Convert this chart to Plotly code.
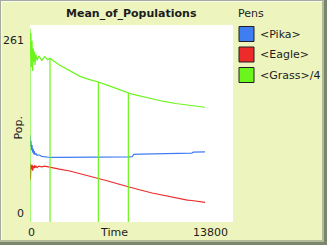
import plotly.graph_objects as go

# ---- data ----
time = [0, 30, 60, 100, 140, 180, 220, 260, 300, 340, 400, 480, 600, 800, 1000, 1200, 1360,
        2000, 2700, 3400, 4000, 4645, 5300, 6000, 6685, 6950, 7050, 7500, 8300, 9100, 9900,
        10700, 11000, 11100, 11400, 11900]
pika = [115, 100, 108, 95, 102, 92, 97, 90, 94, 89, 91, 88, 89, 87, 86.5, 86, 85.5,
        85.5, 85.5, 86, 86, 86, 86, 86, 86.3, 86.5, 89.5, 90, 90.3, 90.6, 91,
        91.2, 91.3, 92.5, 92.6, 93]
eagle = [78, 56, 75, 70, 76, 68, 74, 71, 75, 72, 74, 72, 74, 73, 74, 73, 73,
         70, 67.6, 64, 61.6, 58.3, 54.3, 50.3, 46.4, 45, 44.5, 42.4, 38.4, 35, 31.8,
         29, 28.5, 28.3, 27, 26]
grass_q = [256, 232, 250, 205, 240, 200, 230, 212, 226, 208, 222, 214, 220, 214, 219, 215, 217,
           208, 200.7, 193, 189, 185.5, 181, 175.5, 171, 169.5, 169, 167, 163, 159.7, 157,
           155, 154.3, 154, 153, 152]
# times where the grass pen drops to zero and back (vertical strokes)
grass_drops = [0, 1360, 4645, 6685]

series_names = ["<Pika>", "<Eagle>", "<Grass>/4"]
series_colors = ["#3f7df2", "#ee2b2b", "#6cf51c"]

x_max = 13800
y_max = 261
title = "Mean_of_Populations"
x_title = "Time"
y_title = "Pop."
legend_title = "Pens"

# grass with vertical strokes
gx, gy = [], []
for t, v in zip(time, grass_q):
    if t in grass_drops:
        if t == 0:
            gx += [t, t]
            gy += [0, v]
        else:
            gx += [t, t, t]
            gy += [v, 0, v]
    else:
        gx.append(t)
        gy.append(v)

W, H = 327, 245
L, R, T, B = 30, 94, 25, 23
PW, PH = W - L - R, H - T - B

def px(x):
    return (x - L) / PW

def py(y):
    return 1 - (y - T) / PH

fig = go.Figure()
fig.add_trace(go.Scatter(x=time, y=pika, mode="lines", line=dict(color=series_colors[0], width=1.2),
                         name=series_names[0], showlegend=False))
fig.add_trace(go.Scatter(x=time, y=eagle, mode="lines", line=dict(color=series_colors[1], width=1.2),
                         name=series_names[1], showlegend=False))
fig.add_trace(go.Scatter(x=gx, y=gy, mode="lines", line=dict(color=series_colors[2], width=1.2),
                         name=series_names[2], showlegend=False))

FONT = "DejaVu Sans"
TXT = "#1c1c1c"
ann = []
shapes = []

# title
ann.append(dict(text="<b>" + title + "</b>", x=px(131.5), y=py(14), xref="paper", yref="paper",
                showarrow=False, xanchor="center", yanchor="middle",
                font=dict(family="DejaVu Sans", size=11, color=TXT)))
# y ticks
ann.append(dict(text=str(y_max), x=0, y=y_max, xref="paper", yref="y", showarrow=False,
                xanchor="right", yanchor="middle", xshift=-4, yshift=-15,
                font=dict(family=FONT, size=11, color=TXT)))
ann.append(dict(text="0", x=0, y=0, xref="paper", yref="y", showarrow=False,
                xanchor="right", yanchor="middle", xshift=-4, yshift=9,
                font=dict(family=FONT, size=11, color=TXT)))
# x ticks
ann.append(dict(text="0", x=0, y=py(232), xref="x", yref="paper", showarrow=False,
                xanchor="center", yanchor="middle", xshift=1.5,
                font=dict(family=FONT, size=11, color=TXT)))
ann.append(dict(text=str(x_max), x=x_max, y=py(232), xref="x", yref="paper", showarrow=False,
                xanchor="right", yanchor="middle", xshift=-3,
                font=dict(family=FONT, size=11, color=TXT)))
ann.append(dict(text=x_title, x=px(113.5), y=py(232), xref="paper", yref="paper", showarrow=False,
                xanchor="center", yanchor="middle",
                font=dict(family=FONT, size=11, color=TXT)))
ann.append(dict(text=y_title, x=px(17.5), y=py(128), xref="paper", yref="paper", showarrow=False,
                xanchor="center", yanchor="middle", textangle=-90,
                font=dict(family=FONT, size=11, color=TXT)))
# legend
ann.append(dict(text=legend_title, x=px(236), y=py(14), xref="paper", yref="paper", showarrow=False,
                xanchor="left", yanchor="middle",
                font=dict(family=FONT, size=11, color=TXT)))
legend_y = [34, 54.5, 75]
for name, col, ly in zip(series_names, series_colors, legend_y):
    shapes.append(dict(type="rect", xref="paper", yref="paper",
                       x0=px(239), x1=px(254), y0=py(ly - 7.5), y1=py(ly + 7.5),
                       fillcolor=col, line=dict(color="#202020", width=1)))
    ann.append(dict(text=name.replace("<", "&lt;").replace(">", "&gt;"), x=px(258), y=py(ly),
                    xref="paper", yref="paper", showarrow=False, xanchor="left", yanchor="middle",
                    font=dict(family=FONT, size=11, color=TXT)))

# widget bevel border
def band(x0, y0, x1, y1, color):
    shapes.append(dict(type="rect", xref="paper", yref="paper", x0=px(x0), x1=px(x1),
                       y0=py(y1), y1=py(y0), fillcolor=color, line=dict(width=0), layer="above"))

band(0, 0, W, 1, "#a4aaa0")
band(0, 0, 1, H, "#a4aaa0")
band(1, 1, W - 1, 2, "#f8faf0")
band(1, 1, 2, H - 1, "#f8faf0")
band(0, H - 5, W, H - 3, "#b3bc98")
band(W - 5, 0, W - 3, H - 3, "#b3bc98")
band(0, H - 3, W, H, "#7b876c")
band(W - 3, 0, W, H, "#7b876c")

fig.update_layout(
    width=W, height=H,
    margin=dict(l=L, r=R, t=T, b=B, pad=0),
    paper_bgcolor="#eef4be",
    plot_bgcolor="#ffffff",
    showlegend=False,
    xaxis=dict(range=[0, x_max], showgrid=False, zeroline=False, showticklabels=False,
               showline=False, ticks="", fixedrange=True),
    yaxis=dict(range=[0, y_max], showgrid=False, zeroline=False, showticklabels=False,
               showline=False, ticks="", fixedrange=True),
    annotations=ann,
    shapes=shapes,
)

fig.write_html("out.html", config={"displayModeBar": False},
               post_script="document.body.style.margin='0';document.body.style.overflow='hidden';")
